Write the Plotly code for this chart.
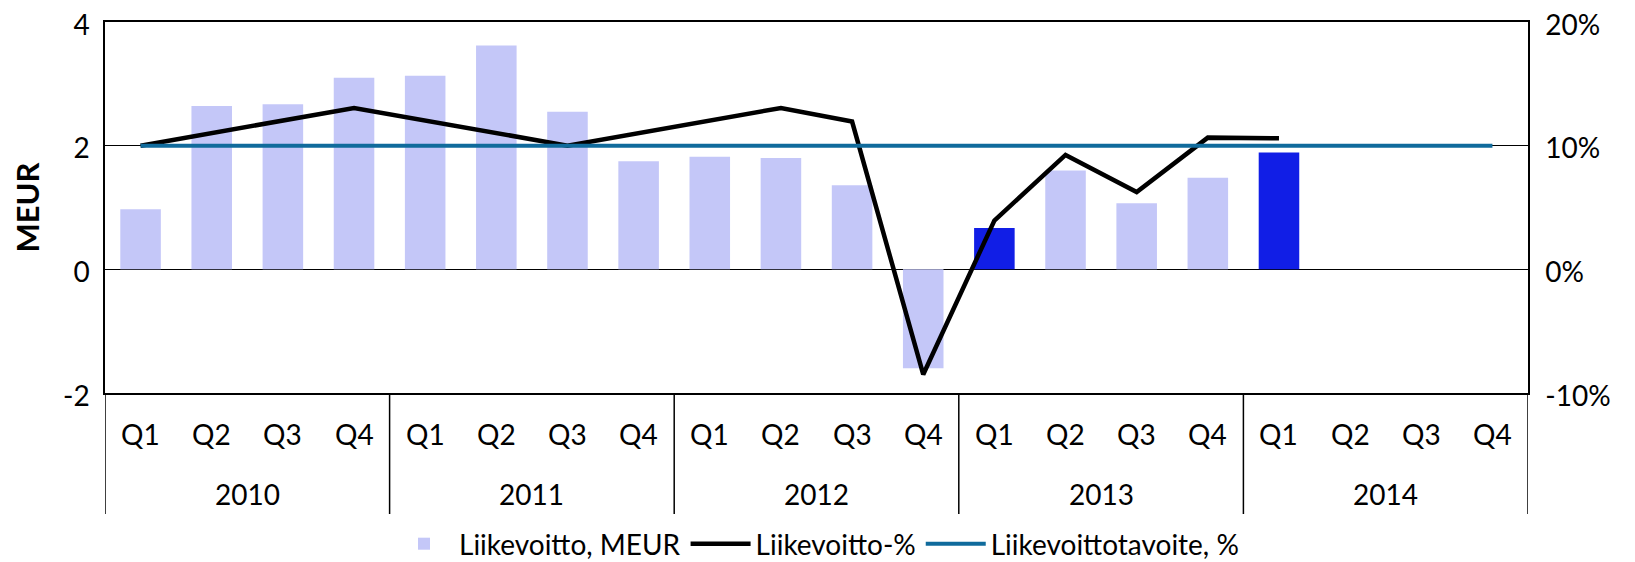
import plotly.graph_objects as go

quarters = ["Q1", "Q2", "Q3", "Q4"] * 5
years = ["2010", "2011", "2012", "2013", "2014"]

# Liikevoitto, MEUR (None = no data)
profit_meur = [0.97, 2.64, 2.67, 3.10,
               3.13, 3.62, 2.55, 1.75,
               1.82, 1.80, 1.36, -1.60,
               0.67, 1.60, 1.07, 1.48,
               1.89, None, None, None]
# highlighted bars (darker)
highlight = [False] * 12 + [True, False, False, False, True, False, False, False]

# Liikevoitto-% (gaps connected as in the original)
profit_pct = [10.0, None, None, 13.05,
              None, None, 10.0, None,
              None, 13.05, 11.95, -8.5,
              3.95, 9.25, 6.25, 10.65,
              10.6, None, None, None]
# Liikevoittotavoite, %
target_pct = [10.0] * 20

left_ticks = [-2, 0, 2, 4]
left_labels = ["-2", "0", "2", "4"]
right_ticks = [-10, 0, 10, 20]
right_labels = ["-10%", "0%", "10%", "20%"]

FONT = "Lato, Carlito, sans-serif"
FS = 28
LIGHT = "#C4C7F8"
DARK = "#111EE6"
BLUE = "#106B9C"

# page body has an 8px margin; compensate so the figure lands where the reference is
OFF = 8
W, H = 1635 - OFF, 562 - OFF
top, bottom_plot = 22 - OFF, 393 - OFF
left, right = 105 - OFF, 1528 - OFF

x = list(range(len(quarters)))

fig = go.Figure()
fig.add_trace(go.Bar(
    x=x, y=profit_meur, name="Liikevoitto, MEUR",
    marker=dict(color=[DARK if h else LIGHT for h in highlight], line=dict(width=0)),
    width=0.57, yaxis="y",
))
fig.add_trace(go.Scatter(
    x=x, y=profit_pct, name="Liikevoitto-%", mode="lines", connectgaps=True,
    line=dict(color="black", width=4.5), yaxis="y2",
))
fig.add_trace(go.Scatter(
    x=x, y=target_pct, name="Liikevoittotavoite, %", mode="lines",
    line=dict(color=BLUE, width=4), yaxis="y2",
))


def py(pix):
    # reference pixel row -> paper coordinate
    return 1 - (pix - OFF - top) / (bottom_plot - top)


annotations = []
for i, q in enumerate(quarters):
    annotations.append(dict(x=i, y=py(434), xref="x", yref="paper", text=q, showarrow=False,
                            yanchor="middle", font=dict(size=FS, color="black", family=FONT)))
for k, yr in enumerate(years):
    annotations.append(dict(x=4 * k + 1.5, y=py(494), xref="x", yref="paper", text=yr, showarrow=False,
                            yanchor="middle", font=dict(size=FS, color="black", family=FONT)))

shapes = []
for b in [-0.5, 3.5, 7.5, 11.5, 15.5, 19.5]:
    shapes.append(dict(type="line", xref="x", yref="paper", x0=b, x1=b, y0=0, y1=py(514),
                       line=dict(color="black", width=1.5)))

fig.update_layout(
    width=W, height=H,
    margin=dict(l=left, r=W - right, t=top, b=H - bottom_plot, autoexpand=False, pad=0),
    plot_bgcolor="white", paper_bgcolor="white",
    font=dict(family=FONT, size=FS, color="black"),
    showlegend=True,
    legend=dict(orientation="h", x=0.5, xanchor="center",
                yref="container", y=1 - (544 - OFF) / H, yanchor="middle",
                font=dict(size=FS), itemwidth=60, traceorder="normal"),
    xaxis=dict(range=[-0.5, 19.5], showticklabels=False, showgrid=False, zeroline=False,
               showline=True, linecolor="black", linewidth=1.5, mirror=True, ticks=""),
    yaxis=dict(range=[-2, 4], tickvals=left_ticks, ticktext=left_labels,
               showgrid=True, gridcolor="black", gridwidth=1.2,
               zeroline=True, zerolinecolor="black", zerolinewidth=1.2,
               showline=True, linecolor="black", linewidth=1.5,
               title=dict(text="<b>MEUR</b>", font=dict(size=31), standoff=24),
               ticks="", ticklabelstandoff=8, ticklabelshift=3, ticklabeloverflow="allow",
               tickfont=dict(size=FS)),
    yaxis2=dict(range=[-10, 20], tickvals=right_ticks, ticktext=right_labels,
                overlaying="y", side="right",
                showgrid=False, zeroline=False, showline=True, linecolor="black", linewidth=1.5,
                ticks="", ticklabelstandoff=10, ticklabelshift=3, ticklabeloverflow="allow",
                tickfont=dict(size=FS)),
    annotations=annotations,
    shapes=shapes,
)

fig.write_html("out.html")
